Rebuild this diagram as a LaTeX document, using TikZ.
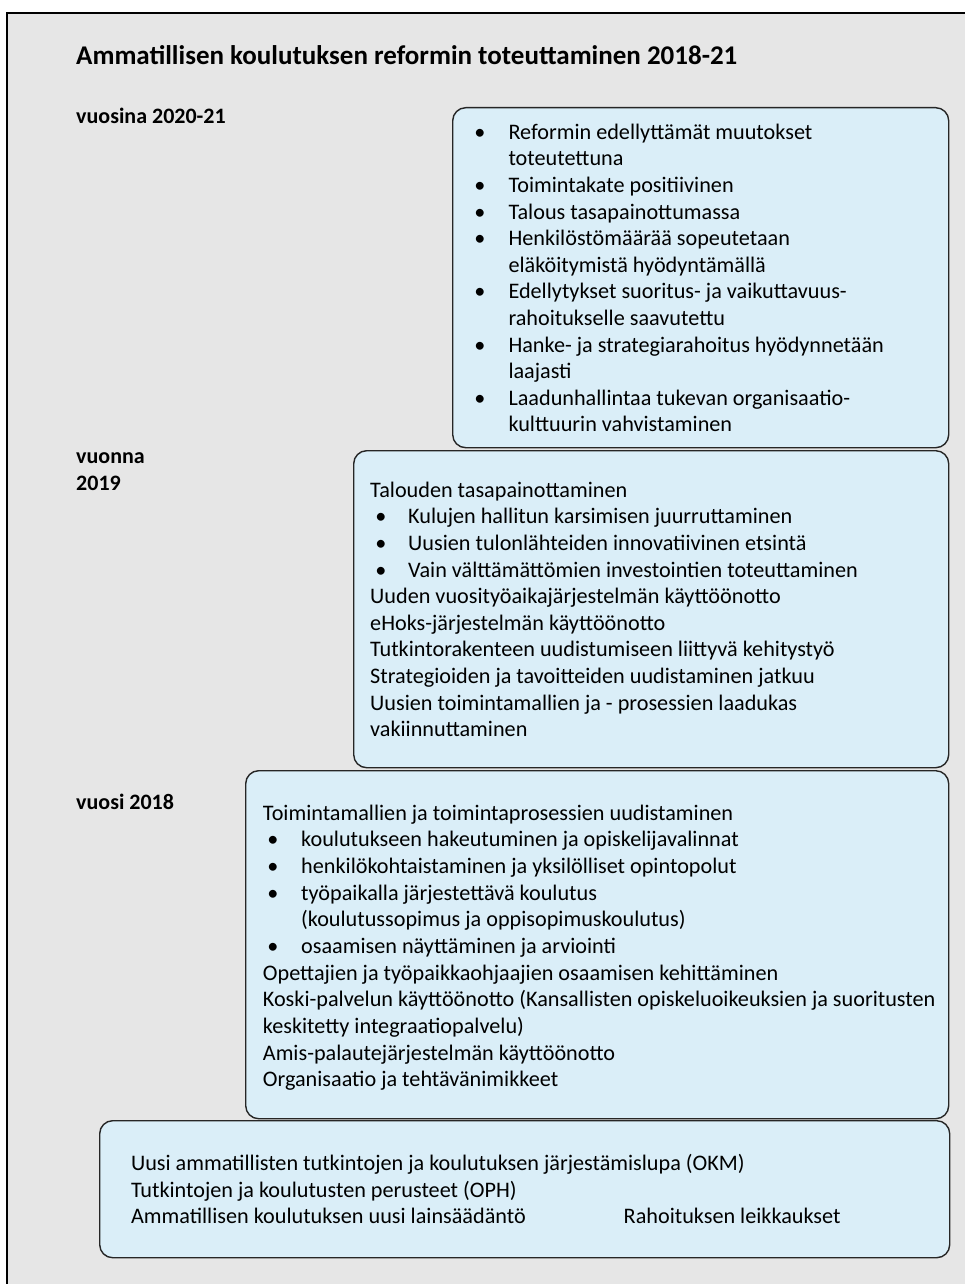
\documentclass[tikz,border=0pt]{standalone}
\usepackage{fontspec}
\setmainfont{Carlito}
\usepackage{tikz}
\usetikzlibrary{positioning}

\definecolor{boxblue}{RGB}{218,238,248}
\definecolor{framegray}{RGB}{230,230,230}

\begin{document}
\begin{tikzpicture}[
      x=1pt, y=-1pt,
      every node/.style={inner sep=0pt, font=\fontsize{22.2}{26.67}\selectfont},
      yearbox/.style={draw=black!85, line width=1.4pt, fill=boxblue, rounded corners=13pt, anchor=north west},
      yearlabel/.style={anchor=base west, font=\fontsize{22}{26}\selectfont\bfseries},
      entry/.style={anchor=base west},
      bul/.style={anchor=base}
    ]
    \useasboundingbox (0,0) rectangle (965,1284);
    % background and frame
    \fill[white] (0,0) rectangle (965,1284);
    \draw[line width=1.4pt, fill=framegray] (7,13) rectangle (980,1300);
    % title and year labels
    \node[anchor=base west, font=\fontsize{27}{32}\selectfont\bfseries] (title) at (76,65) {Ammatillisen koulutuksen reformin toteuttaminen 2018-21};
    \node[yearlabel] (lab2020) at (76,123.3) {vuosina 2020-21};
    \node[yearlabel] (lab2019a) at (76,463.3) {vuonna};
    \node[yearlabel] (lab2019b) at (76,490) {2019};
    \node[yearlabel] (lab2018) at (76,809) {vuosi 2018};
    % boxes
    \node[yearbox, minimum width=496pt, minimum height=340pt] (box2020) at (452,107) {};
    \node[yearbox, minimum width=595pt, minimum height=317pt] (box2019) at (353,450) {};
    \node[yearbox, minimum width=703pt, minimum height=348pt] (box2018) at (245,770) {};
    \node[yearbox, minimum width=850pt, minimum height=137pt] (boxbase) at (99,1120) {};
    % vuosina 2020-21
    \foreach \i/\txt in {0/{Reformin edellyttämät muutokset}, 1/{toteutettuna},
        2/{Toimintakate positiivinen}, 3/{Talous tasapainottumassa},
        4/{Henkilöstömäärää sopeutetaan}, 5/{eläköitymistä hyödyntämällä},
        6/{Edellytykset suoritus- ja vaikuttavuus-}, 7/{rahoitukselle saavutettu},
        8/{Hanke- ja strategiarahoitus hyödynnetään}, 9/{laajasti},
        10/{Laadunhallintaa tukevan organisaatio-}, 11/{kulttuurin vahvistaminen}}
      \node[entry] (a\i) at (508.3,139.3+26.6*\i) {\txt};
    \foreach \i in {0,2,3,4,6,8,10}
      \node[bul] (abul\i) at (480,139.3+26.6*\i) {•};
    % vuonna 2019
    \foreach \i/\x/\txt in {0/370/{Talouden tasapainottaminen},
        1/408/{Kulujen hallitun karsimisen juurruttaminen},
        2/408/{Uusien tulonlähteiden innovatiivinen etsintä},
        3/408/{Vain välttämättömien investointien toteuttaminen},
        4/370/{Uuden vuosityöaikajärjestelmän käyttöönotto},
        5/370/{eHoks-järjestelmän käyttöönotto},
        6/370/{Tutkintorakenteen uudistumiseen liittyvä kehitystyö},
        7/370/{Strategioiden ja tavoitteiden uudistaminen jatkuu},
        8/370/{Uusien toimintamallien ja - prosessien laadukas},
        9/370/{vakiinnuttaminen}}
      \node[entry] (b\i) at (\x,497.3+26.6*\i) {\txt};
    \foreach \i in {1,2,3}
      \node[bul] (bbul\i) at (381,497.3+26.6*\i) {•};
    % vuosi 2018
    \foreach \i/\x/\txt in {0/262.7/{Toimintamallien ja toimintaprosessien uudistaminen},
        1/301/{koulutukseen hakeutuminen ja opiskelijavalinnat},
        2/301/{henkilökohtaistaminen ja yksilölliset opintopolut},
        3/301/{työpaikalla järjestettävä koulutus},
        4/301/{(koulutussopimus ja oppisopimuskoulutus)},
        5/301/{osaamisen näyttäminen ja arviointi},
        6/262.7/{Opettajien ja työpaikkaohjaajien osaamisen kehittäminen},
        7/262.7/{Koski-palvelun käyttöönotto (Kansallisten opiskeluoikeuksien ja suoritusten},
        8/262.7/{keskitetty integraatiopalvelu)},
        9/262.7/{Amis-palautejärjestelmän käyttöönotto},
        10/262.7/{Organisaatio ja tehtävänimikkeet}}
      \node[entry] (c\i) at (\x,820+26.67*\i) {\txt};
    \foreach \i in {1,2,3,5}
      \node[bul] (cbul\i) at (273,820+26.67*\i) {•};
    % base
    \node[entry] (d0) at (130.8,1170.7) {Uusi ammatillisten tutkintojen ja koulutuksen järjestämislupa (OKM)};
    \node[entry] (d1) at (130.8,1197.3) {Tutkintojen ja koulutusten perusteet (OPH)};
    \node[entry] (d2) at (130.8,1223.3) {Ammatillisen koulutuksen uusi lainsäädäntö};
    \node[entry] (d3) at (623.5,1223.3) {Rahoituksen leikkaukset};
  \end{tikzpicture}
\end{document}
